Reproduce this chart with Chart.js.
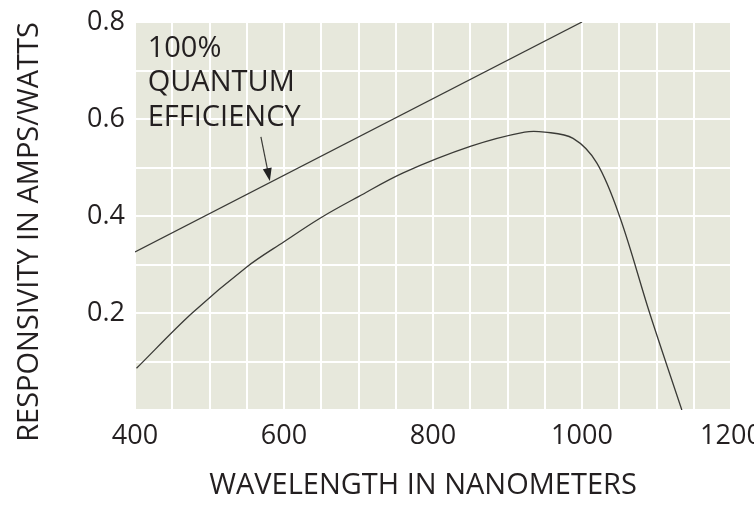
<!DOCTYPE html>
<html>
<head>
<meta charset="utf-8">
<script src="https://cdn.jsdelivr.net/npm/chart.js@4"></script>
<style>
  html, body { margin: 0; padding: 0; background: #fff; }
  #wrap { width: 754px; height: 509px; }
</style>
</head>
<body>
<div id="wrap"><canvas id="respChart"></canvas></div>
<script>
// photodiode responsivity vs wavelength
const diodeNm = [402, 476, 550, 600, 650, 700, 760, 851, 923, 950, 988, 1020, 1051, 1091, 1134];
const diodeResp = [0.086, 0.199, 0.295, 0.347, 0.397, 0.440, 0.489, 0.544, 0.573, 0.573, 0.560, 0.509, 0.397, 0.199, 0];

// ideal 100% quantum efficiency line
const idealNm = [400, 1000];
const idealResp = [0.326, 0.8];

const xLabels = [400, 600, 800, 1000, 1200];
const yLabels = [0.2, 0.4, 0.6, 0.8];

const xTitle = "WAVELENGTH IN NANOMETERS";
const yTitle = "RESPONSIVITY IN AMPS/WATTS";
const noteLines = ["100%", "QUANTUM", "EFFICIENCY"];

const textColor = "#231f20";
const lineColor = "#3a3a36";
const plotBg = "#e7e8dc";

Chart.defaults.font.family = "'Open Sans', sans-serif";
Chart.defaults.color = textColor;

const toPoints = (xs, ys) => xs.map((x, i) => ({ x: x, y: ys[i] }));

// gray panel behind the grid
const panelBg = {
  id: "panelBg",
  beforeDraw(chart) {
    const { ctx, chartArea: a } = chart;
    ctx.save();
    ctx.fillStyle = plotBg;
    ctx.fillRect(a.left, a.top, a.right - a.left, a.bottom - a.top);
    ctx.restore();
  },
};

// axis titles sit a little off the plot centre, so draw them by hand
const axisTitles = {
  id: "axisTitles",
  afterDraw(chart) {
    const { ctx, chartArea: a } = chart;
    ctx.save();
    ctx.fillStyle = textColor;
    ctx.font = "29px 'Open Sans', sans-serif";
    ctx.textAlign = "center";
    ctx.textBaseline = "middle";
    ctx.fillText(xTitle, (a.left + a.right) / 2 - 10, chart.height - 23);
    ctx.translate(30, (a.top + a.bottom) / 2 + 16);
    ctx.rotate(-Math.PI / 2);
    ctx.fillText(yTitle, 0, 0);
    ctx.restore();
  },
};

// label and arrow for the ideal line
const noteArrow = {
  id: "noteArrow",
  afterDatasetsDraw(chart) {
    const { ctx, scales } = chart;
    const xs = scales.x, ys = scales.y;
    ctx.save();
    ctx.fillStyle = textColor;
    ctx.font = "29px 'Open Sans', sans-serif";
    ctx.textBaseline = "alphabetic";
    const tx = xs.getPixelForValue(417);
    noteLines.forEach((t, i) => {
      ctx.fillText(t, tx, ys.getPixelForValue(0.728 - i * 0.071));
    });

    const x0 = xs.getPixelForValue(569), y0 = ys.getPixelForValue(0.563);
    const x1 = xs.getPixelForValue(581), y1 = ys.getPixelForValue(0.472);
    const ang = Math.atan2(y1 - y0, x1 - x0);
    ctx.strokeStyle = lineColor;
    ctx.lineWidth = 1.2;
    ctx.beginPath();
    ctx.moveTo(x0, y0);
    ctx.lineTo(x1 - 10 * Math.cos(ang), y1 - 10 * Math.sin(ang));
    ctx.stroke();
    ctx.beginPath();
    ctx.moveTo(x1, y1);
    ctx.lineTo(x1 - 13 * Math.cos(ang) + 4.5 * Math.sin(ang), y1 - 13 * Math.sin(ang) - 4.5 * Math.cos(ang));
    ctx.lineTo(x1 - 13 * Math.cos(ang) - 4.5 * Math.sin(ang), y1 - 13 * Math.sin(ang) + 4.5 * Math.cos(ang));
    ctx.closePath();
    ctx.fillStyle = "#222";
    ctx.fill();
    ctx.restore();
  },
};

const ctx = document.getElementById("respChart").getContext("2d");

new Chart(ctx, {
  type: "scatter",
  data: {
    datasets: [
      {
        label: "100% quantum efficiency",
        data: toPoints(idealNm, idealResp),
        showLine: true,
        borderColor: lineColor,
        borderWidth: 1.3,
        pointRadius: 0,
      },
      {
        label: "Responsivity",
        data: toPoints(diodeNm, diodeResp),
        showLine: true,
        borderColor: lineColor,
        borderWidth: 1.3,
        pointRadius: 0,
        tension: 0.35,
      },
    ],
  },
  options: {
    responsive: true,
    maintainAspectRatio: false,
    animation: false,
    layout: { padding: { top: 22, right: 23, left: 0, bottom: 0 } },
    plugins: {
      legend: { display: false },
      tooltip: { enabled: false },
    },
    scales: {
      x: {
        type: "linear",
        min: 400,
        max: 1200,
        border: { display: false },
        grid: { color: "#ffffff", lineWidth: 2, drawTicks: false },
        ticks: {
          stepSize: 50,
          autoSkip: false,
          maxRotation: 0,
          padding: 10,
          font: { size: 27 },
          callback: (v) => (xLabels.includes(v) ? String(v) : ""),
        },
        afterFit(scale) {
          scale.height = 99;
          scale.paddingLeft = 0;
          scale.paddingRight = 0;
        },
      },
      y: {
        min: 0,
        max: 0.8,
        border: { display: false },
        grid: { color: "#ffffff", lineWidth: 2, drawTicks: false },
        ticks: {
          stepSize: 0.1,
          autoSkip: false,
          padding: 10,
          font: { size: 27 },
          callback: (v) => {
            const r = Math.round(v * 10) / 10;
            return yLabels.includes(r) ? r.toFixed(1) : "";
          },
        },
        afterFit(scale) {
          scale.width = 135;
          scale.paddingTop = 0;
          scale.paddingBottom = 0;
        },
      },
    },
  },
  plugins: [panelBg, noteArrow, axisTitles],
});
</script>
</body>
</html>
